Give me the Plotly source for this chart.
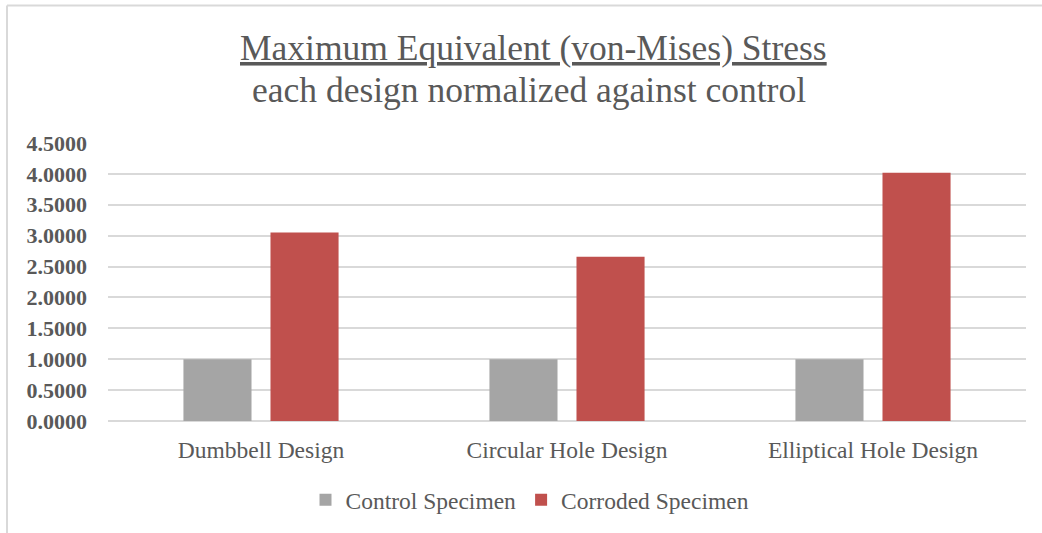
import plotly.graph_objects as go

# Normalized peak von-Mises stress per specimen design
designs = ["Dumbbell Design", "Circular Hole Design", "Elliptical Hole Design"]
control_values = [1.0, 1.0, 1.0]
corroded_values = [3.05, 2.66, 4.02]
y_ticks = [0.0, 0.5, 1.0, 1.5, 2.0, 2.5, 3.0, 3.5, 4.0, 4.5]
y_tick_labels = [f"{v:.4f}" for v in y_ticks]

TEXT = "#595959"
GRID = "#D9D9D9"
SERIF = "Liberation Serif, Times New Roman, serif"

W, H = 1042, 533
ML, MR, MT, MB = 108, 16, 143, 111
PW, PH = W - ML - MR, H - MT - MB


def px_x(x):
    return (x - ML) / PW


def px_y(y):
    return (H - MB - y) / PH


fig = go.Figure()
fig.add_trace(go.Bar(name="Control Specimen", x=designs, y=control_values,
                     marker=dict(color="#A5A5A5", line=dict(width=0))))
fig.add_trace(go.Bar(name="Corroded Specimen", x=designs, y=corroded_values,
                     marker=dict(color="#C0504D", line=dict(width=0))))

fig.update_layout(
    width=W, height=H,
    margin=dict(l=ML, r=MR, t=MT, b=MB),
    paper_bgcolor="white", plot_bgcolor="white",
    barmode="group", bargap=0.431, bargroupgap=0.218,
    font=dict(family=SERIF, color=TEXT),
    showlegend=True,
    legend=dict(orientation="h", x=px_x(530), xanchor="center",
                y=px_y(500), yanchor="middle",
                font=dict(size=23.5, color=TEXT, family=SERIF),
                itemwidth=30, tracegroupgap=0),
    xaxis=dict(showgrid=False, showline=False, zeroline=False,
               tickfont=dict(size=23.5, color=TEXT, family=SERIF),
               ticks="", ticklabelstandoff=12),
    yaxis=dict(range=[0, 4.5], tickvals=y_ticks, ticktext=y_tick_labels,
               showgrid=True, gridcolor=GRID, gridwidth=1.5,
               zeroline=True, zerolinecolor=GRID, zerolinewidth=1.5,
               showline=False, ticks="", ticklabelstandoff=20,
               tickfont=dict(size=22, color=TEXT, family=SERIF, weight="bold")),
    annotations=[
        dict(text="<u>Maximum Equivalent (von-Mises) Stress</u>",
             xref="paper", yref="paper", x=px_x(533), y=px_y(48),
             xanchor="center", yanchor="middle", showarrow=False,
             font=dict(size=35.5, color=TEXT, family=SERIF)),
        dict(text="each design normalized against control",
             xref="paper", yref="paper", x=px_x(529), y=px_y(90),
             xanchor="center", yanchor="middle", showarrow=False,
             font=dict(size=35.5, color=TEXT, family=SERIF)),
    ],
    shapes=[
        # chart-area frame (left and top edges)
        dict(type="line", xref="paper", yref="paper",
             x0=px_x(7), x1=px_x(7), y0=px_y(540), y1=px_y(5),
             line=dict(color=GRID, width=2)),
        dict(type="line", xref="paper", yref="paper",
             x0=px_x(7), x1=px_x(1050), y0=px_y(5), y1=px_y(5),
             line=dict(color=GRID, width=2)),
    ],
)

fig.write_html("out.html")
